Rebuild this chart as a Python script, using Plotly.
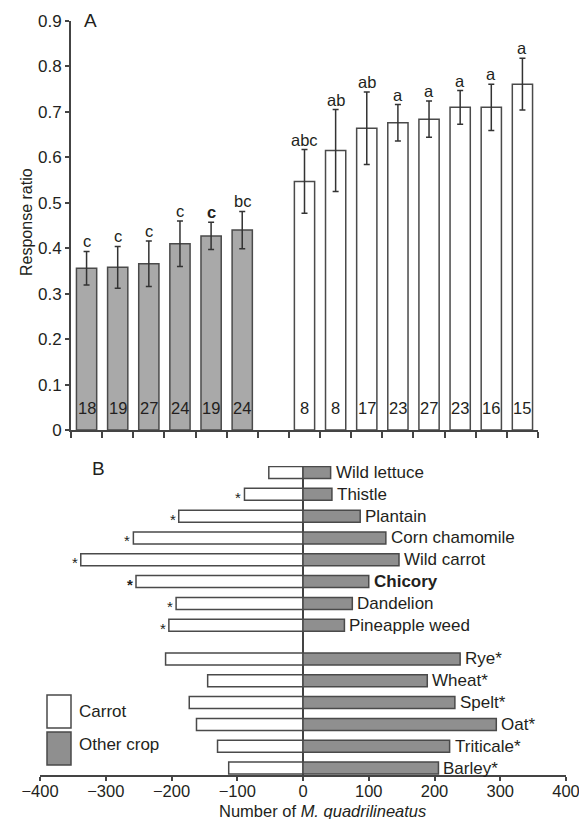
import plotly.graph_objects as go

# ---------------- Panel A data ----------------
a_gray_means = [0.356, 0.358, 0.366, 0.410, 0.427, 0.440]
a_gray_err = [0.037, 0.046, 0.050, 0.050, 0.030, 0.041]
a_gray_letters = ["c", "c", "c", "c", "<b>c</b>", "bc"]
a_gray_n = ["18", "19", "27", "24", "19", "24"]

a_white_means = [0.547, 0.615, 0.664, 0.676, 0.684, 0.710, 0.710, 0.761]
a_white_err = [0.070, 0.090, 0.080, 0.040, 0.040, 0.037, 0.051, 0.057]
a_white_letters = ["abc", "ab", "ab", "a", "a", "a", "a", "a"]
a_white_n = ["8", "8", "17", "23", "27", "23", "16", "15"]

a_yticks = [0, 0.1, 0.2, 0.3, 0.4, 0.5, 0.6, 0.7, 0.8, 0.9]

# ---------------- Panel B data ----------------
weeds = ["Wild lettuce", "Thistle", "Plantain", "Corn chamomile", "Wild carrot",
         "<b>Chicory</b>", "Dandelion", "Pineapple weed"]
weeds_carrot = [52, 89, 189, 258, 338, 254, 193, 204]
weeds_other = [42, 44, 87, 126, 146, 100, 75, 63]
weeds_carrot_sig = [False, True, True, True, True, True, True, True]

crops = ["Rye*", "Wheat*", "Spelt*", "Oat*", "Triticale*", "Barley*"]
crops_carrot = [209, 145, 173, 162, 130, 113]
crops_other = [239, 189, 231, 294, 223, 206]
crops_carrot_sig = [False, False, False, False, False, False]

b_xticks = [-400, -300, -200, -100, 0, 100, 200, 300, 400]

# ---------------- style ----------------
FONT = "Liberation Sans, Arial, sans-serif"
TXT = "#231f20"
EDGE = "#4a4a4a"
GRAY_A = "#a9a9a9"
GRAY_B = "#8f8f8f"
AX = "#444444"

W, H = 579, 819


def px(x):
    return x / W


def py(y):
    return 1 - y / H


fig = go.Figure()

# Panel A positions: 6 gray slots, one empty slot, then 8 white slots
gx = list(range(len(a_gray_means)))
wx = [len(a_gray_means) + 1 + i for i in range(len(a_white_means))]
nslots = len(a_gray_means) + 1 + len(a_white_means)

fig.add_trace(go.Bar(
    x=gx, y=a_gray_means, width=0.65,
    marker=dict(color=GRAY_A, line=dict(color=EDGE, width=1.5)),
    error_y=dict(type="data", array=a_gray_err, color="#333333", thickness=1.5, width=3),
    xaxis="x", yaxis="y", showlegend=False))
fig.add_trace(go.Bar(
    x=wx, y=a_white_means, width=0.65,
    marker=dict(color="white", line=dict(color=EDGE, width=1.5)),
    error_y=dict(type="data", array=a_white_err, color="#333333", thickness=1.5, width=3),
    xaxis="x", yaxis="y", showlegend=False))

annotations = []
for xs, ms, es, ls, ns in [(gx, a_gray_means, a_gray_err, a_gray_letters, a_gray_n),
                           (wx, a_white_means, a_white_err, a_white_letters, a_white_n)]:
    for x, m, e, l, n in zip(xs, ms, es, ls, ns):
        annotations.append(dict(x=x, y=m + e, xref="x", yref="y", text=l, showarrow=False,
                                yanchor="bottom", yshift=-1, font=dict(size=16.5, color=TXT)))
        annotations.append(dict(x=x, y=0, xref="x", yref="y", text=n, showarrow=False,
                                yanchor="middle", yshift=22, font=dict(size=16.5, color=TXT)))

# Panel B rows: crops at bottom, gap, weeds above
gap = 1.55
crop_y = [len(crops) - 1 - i for i in range(len(crops))]
weed_y = [len(crops) - 1 + gap + (len(weeds) - 1 - i) for i in range(len(weeds))]

all_y = weed_y + crop_y
all_carrot = weeds_carrot + crops_carrot
all_other = weeds_other + crops_other
all_names = weeds + crops
all_sig = weeds_carrot_sig + crops_carrot_sig

fig.add_trace(go.Bar(
    y=all_y, x=[-v for v in all_carrot], orientation="h", width=0.55,
    marker=dict(color="white", line=dict(color=EDGE, width=1.5)),
    xaxis="x2", yaxis="y2", showlegend=False))
fig.add_trace(go.Bar(
    y=all_y, x=all_other, orientation="h", width=0.55,
    marker=dict(color=GRAY_B, line=dict(color=EDGE, width=1.5)),
    xaxis="x2", yaxis="y2", showlegend=False))

for y, v, name in zip(all_y, all_other, all_names):
    annotations.append(dict(x=v, y=y, xref="x2", yref="y2", text=name, showarrow=False,
                            xanchor="left", xshift=3, yanchor="middle",
                            font=dict(size=17, color=TXT)))
for y, v, s, name in zip(all_y, all_carrot, all_sig, all_names):
    if s:
        star = "<b>*</b>" if "<b>" in name else "*"
        annotations.append(dict(x=-v, y=y, xref="x2", yref="y2", text=star, showarrow=False,
                                xanchor="right", xshift=-1, yanchor="middle", yshift=-3,
                                font=dict(size=15, color=TXT)))

# Panel labels, axis title, legend text
annotations += [
    dict(x=px(90), y=py(20), xref="paper", yref="paper", text="A", showarrow=False,
         xanchor="center", yanchor="middle", font=dict(size=19, color=TXT)),
    dict(x=px(98), y=py(468), xref="paper", yref="paper", text="B", showarrow=False,
         xanchor="center", yanchor="middle", font=dict(size=19, color=TXT)),
    dict(x=px(27), y=py(222), xref="paper", yref="paper", text="Response ratio",
         showarrow=False, textangle=-90, xanchor="center", yanchor="middle",
         font=dict(size=16, color=TXT)),
    dict(x=px(322), y=py(811), xref="paper", yref="paper",
         text="Number of <i>M. quadrilineatus</i>", showarrow=False,
         xanchor="center", yanchor="middle", font=dict(size=16.5, color=TXT)),
    dict(x=px(77), y=py(711), xref="paper", yref="paper", text="Carrot", showarrow=False,
         xanchor="left", yanchor="middle", font=dict(size=17, color=TXT)),
    dict(x=px(77), y=py(744), xref="paper", yref="paper", text="Other crop", showarrow=False,
         xanchor="left", yanchor="middle", font=dict(size=17, color=TXT)),
]

shapes = [
    dict(type="rect", xref="paper", yref="paper", x0=px(47), x1=px(71),
         y0=py(728), y1=py(695), fillcolor="white", line=dict(color=EDGE, width=1.5)),
    dict(type="rect", xref="paper", yref="paper", x0=px(47), x1=px(71),
         y0=py(765), y1=py(732), fillcolor=GRAY_B, line=dict(color=EDGE, width=1.5)),
]

fig.update_layout(
    width=W, height=H,
    margin=dict(l=0, r=0, t=0, b=0, autoexpand=False),
    paper_bgcolor="white", plot_bgcolor="white",
    font=dict(family=FONT, size=17, color=TXT),
    barmode="overlay",
    annotations=annotations,
    shapes=shapes,
    xaxis=dict(domain=[px(71), px(538)], anchor="y", range=[-0.5, nslots - 0.5],
               tickvals=[i - 0.5 for i in range(nslots + 1)], showticklabels=False,
               ticks="outside", ticklen=6, tickwidth=1.5, tickcolor=AX, automargin=False,
               showline=True, linecolor=AX, linewidth=2, showgrid=False, zeroline=False),
    yaxis=dict(domain=[py(430), py(21)], anchor="x", range=[0, 0.9],
               tickvals=a_yticks, ticktext=[("%g" % t) for t in a_yticks],
               ticks="outside", ticklen=4, tickwidth=1.5, tickcolor=AX, automargin=False,
               tickfont=dict(size=17, color=TXT),
               showline=True, linecolor=AX, linewidth=2, showgrid=False, zeroline=False),
    xaxis2=dict(domain=[px(40), px(566)], anchor="y2", range=[-400, 400],
                tickvals=b_xticks, ticktext=[("\u2212%d" % -t) if t < 0 else str(t) for t in b_xticks],
                ticks="outside", ticklen=4, tickwidth=1.5, tickcolor=AX, automargin=False,
                ticklabeloverflow="allow", ticklabelstandoff=-4,
                tickfont=dict(size=16.5, color=TXT),
                showline=True, linecolor=AX, linewidth=2, showgrid=False,
                zeroline=True, zerolinecolor=AX, zerolinewidth=1.5),
    yaxis2=dict(domain=[py(775), py(466)], anchor="x2", automargin=False,
                range=[-0.32, weed_y[0] + 0.3], visible=False),
)

# remove the browser's default 8px body margin so the figure fills the window exactly
fig.write_html("out.html", config={"displayModeBar": False},
               post_script="document.body.style.margin='0';document.body.style.overflow='hidden';")
